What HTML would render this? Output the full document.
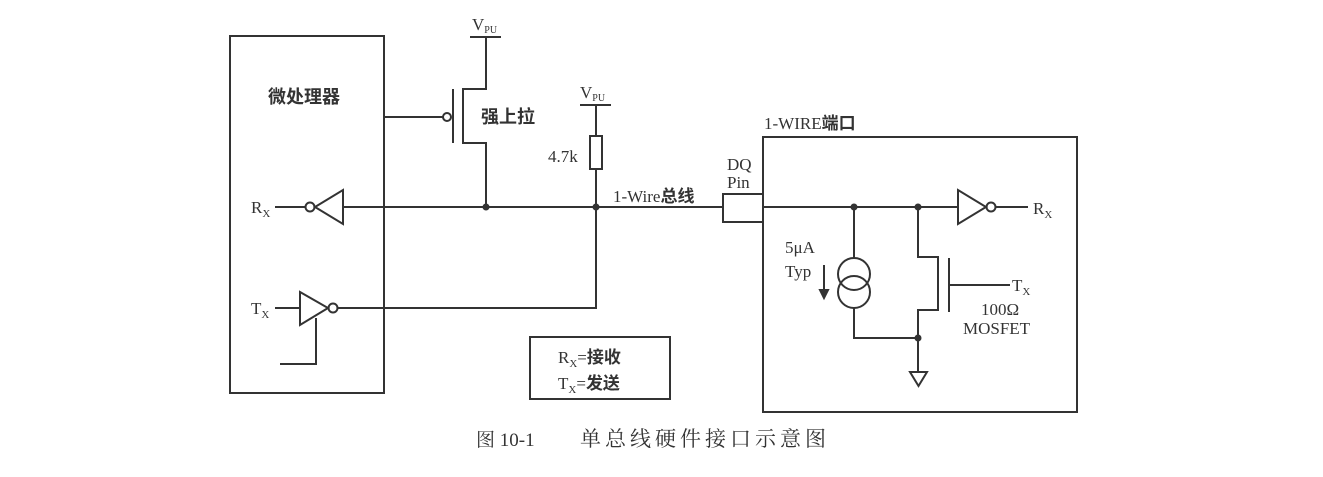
<!DOCTYPE html>
<html><head><meta charset="utf-8"><style>
html,body{margin:0;padding:0;background:#fff;}
svg{display:block;}
text{font-family:"Liberation Serif","Noto Serif CJK SC",serif;fill:#333;}
.cjk{font-family:"Liberation Serif","Noto Sans CJK SC",sans-serif;font-weight:bold;}
</style></head><body>
<svg width="1323" height="477" viewBox="0 0 1323 477" xmlns="http://www.w3.org/2000/svg">
<g stroke="#333" stroke-width="2" fill="none">
<rect x="230" y="36" width="154" height="357"/>
<line x1="275" y1="207" x2="305" y2="207"/>
<circle cx="310" cy="207" r="4.5"/>
<polygon points="315,207 343,190 343,224"/>
<line x1="343" y1="207" x2="723" y2="207"/>
<line x1="275" y1="308" x2="300" y2="308"/>
<polygon points="300,292 300,325 328,308"/>
<circle cx="333" cy="308" r="4.5"/>
<polyline points="338,308 596,308 596,207"/>
<polyline points="316,318 316,364 280,364"/>
<line x1="384" y1="117" x2="443" y2="117"/>
<circle cx="447" cy="117" r="4"/>
<line x1="453" y1="89" x2="453" y2="143"/>
<polyline points="486,38 486,89 463,89 463,143 486,143 486,207"/>
<line x1="470" y1="37" x2="501" y2="37"/>
<line x1="580" y1="105" x2="611" y2="105"/>
<line x1="596" y1="105" x2="596" y2="136"/>
<rect x="590" y="136" width="12" height="33"/>
<line x1="596" y1="169" x2="596" y2="207"/>
<rect x="763" y="137" width="314" height="275"/>
<rect x="723" y="194" width="40" height="28"/>
<line x1="763" y1="207" x2="958" y2="207"/>
<polygon points="958,190 958,224 986,207"/>
<circle cx="991" cy="207" r="4.5"/>
<line x1="996" y1="207" x2="1028" y2="207"/>
<line x1="854" y1="207" x2="854" y2="258"/>
<circle cx="854" cy="274" r="16"/>
<circle cx="854" cy="292" r="16"/>
<polyline points="854,308 854,338 918,338"/>
<line x1="824" y1="265" x2="824" y2="294"/>
<polygon points="820,290 828,290 824,298" fill="#333"/>
<polyline points="918,207 918,257 938,257 938,310 918,310 918,372"/>
<line x1="949" y1="258" x2="949" y2="312"/>
<line x1="949" y1="285" x2="1010" y2="285"/>
<polygon points="910,372 927,372 918.5,386"/>
<rect x="530" y="337" width="140" height="62"/>
</g>
<g fill="#333">
<circle cx="486" cy="207" r="3.5"/><circle cx="596" cy="207" r="3.5"/>
<circle cx="854" cy="207" r="3.5"/><circle cx="918" cy="207" r="3.5"/>
<circle cx="918" cy="338" r="3.5"/>
</g>
<g font-size="17">
<text x="472" y="30">V<tspan font-size="10" dy="3">PU</tspan></text>
<text x="580" y="98">V<tspan font-size="10" dy="3">PU</tspan></text>
<text x="548" y="162">4.7k</text>
<text x="251" y="213">R<tspan font-size="11" dy="4">X</tspan></text>
<text x="251" y="314">T<tspan font-size="11" dy="4">X</tspan></text>
<text x="613" y="202">1-Wire<tspan class="cjk">总线</tspan></text>
<text x="727" y="170">DQ</text>
<text x="727" y="188">Pin</text>
<text x="764" y="129">1-WIRE<tspan class="cjk">端口</tspan></text>
<text x="1033" y="214">R<tspan font-size="11" dy="4">X</tspan></text>
<text x="1012" y="291">T<tspan font-size="11" dy="4">X</tspan></text>
<text x="785" y="253">5μA</text>
<text x="785" y="277">Typ</text>
<text x="981" y="315">100Ω</text>
<text x="963" y="334">MOSFET</text>
<text x="558" y="363">R<tspan font-size="11" dy="4">X</tspan><tspan dy="-4">=</tspan><tspan class="cjk">接收</tspan></text>
<text x="558" y="389">T<tspan font-size="11" dy="4">X</tspan><tspan dy="-4">=</tspan><tspan class="cjk">发送</tspan></text>
</g>
<text class="cjk" x="268" y="103" font-size="18">微处理器</text>
<text class="cjk" x="481" y="123" font-size="18">强上拉</text>
<text x="476" y="446" font-size="19" fill="#444">图 10-1</text>
<text x="580" y="446" font-size="21" fill="#444" letter-spacing="4">单总线硬件接口示意图</text>
</svg>
</body></html>
